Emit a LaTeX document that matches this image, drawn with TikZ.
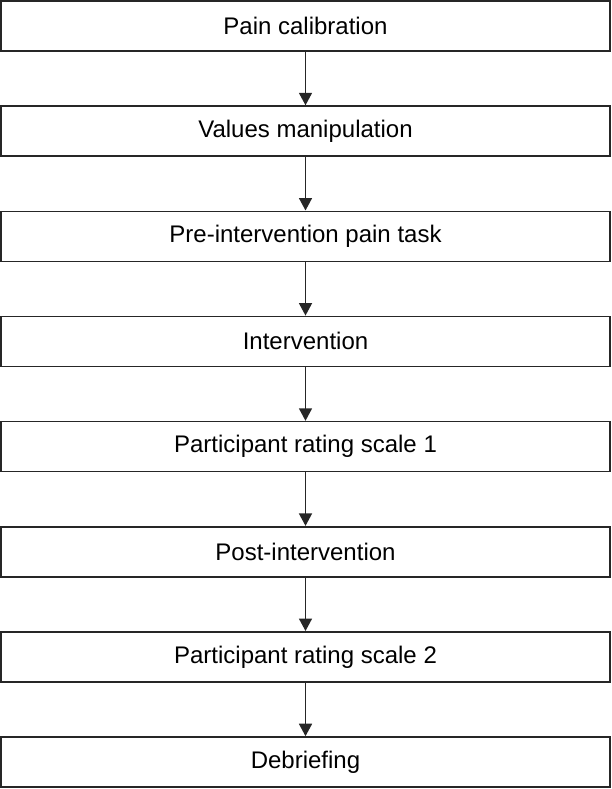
\documentclass[tikz,border=0pt]{standalone}
\usepackage{fontspec}
\setmainfont{Liberation Sans}
\usetikzlibrary{arrows.meta}

\begin{document}
\begin{tikzpicture}[x=1pt,y=1pt]
\tikzstyle{stepbox}=[draw=black!85, line width=1.6pt, minimum width=609pt, minimum height=50pt, inner sep=0pt, font=\fontsize{24}{28}\selectfont]
\tikzstyle{flow}=[draw=black!85, line width=1.6pt, -{Triangle[length=12.5pt,width=13pt]}]
\useasboundingbox (0,0) rectangle (612,-789);
\node [stepbox] (calib) at (305.5,-26) {Pain calibration};
\node [stepbox] (values) at (305.5,-131.1) {Values manipulation};
\node [stepbox] (pretask) at (305.5,-236.3) {Pre-intervention pain task};
\node [stepbox] (interv) at (305.5,-341.4) {Intervention};
\node [stepbox] (rating1) at (305.5,-446.6) {Participant rating scale 1};
\node [stepbox] (post) at (305.5,-551.7) {Post-intervention};
\node [stepbox] (rating2) at (305.5,-656.8) {Participant rating scale 2};
\node [stepbox] (debrief) at (305.5,-762) {Debriefing};
\draw [flow] (calib) -- (values);
\draw [flow] (values) -- (pretask);
\draw [flow] (pretask) -- (interv);
\draw [flow] (interv) -- (rating1);
\draw [flow] (rating1) -- (post);
\draw [flow] (post) -- (rating2);
\draw [flow] (rating2) -- (debrief);
\end{tikzpicture}
\end{document}
